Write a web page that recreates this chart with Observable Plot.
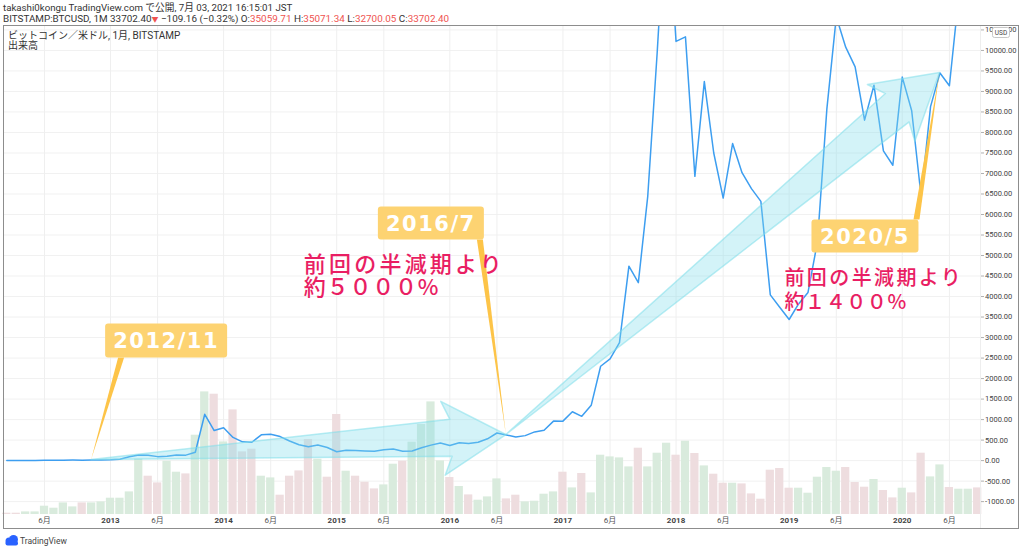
<!DOCTYPE html>
<html><head><meta charset="utf-8">
<script src="https://cdn.jsdelivr.net/npm/d3@7"></script>
<script src="https://cdn.jsdelivr.net/npm/@observablehq/plot@0.6"></script>
<style>
html,body{margin:0;padding:0;background:#fff;}
#chart{position:relative;width:1024px;height:551px;overflow:hidden;}
</style></head><body><div id="chart"></div>
<script>
// Monthly bars, first = Feb 2012, last = Sep 2020 (index 0..103)
const closes = [
  4.9,4.9,5.0,5.2,6.7,9.3,10.2,12.4,11.2,12.6,13.5,
  20.4,33.4,93,139,129,97,106,135,133,204,1129,732,
  803,565,457,448,628,640,586,478,387,338,378,320,
  217,254,244,236,230,263,284,230,236,314,377,430,
  368,437,416,448,531,673,624,575,609,700,742,963,
  962,1190,1080,1348,2300,2480,2875,4740,4340,6450,9950,13850,
  10220,10330,6930,9240,7500,6400,7730,7020,6630,6320,4040,3740,
  3440,3820,4100,5330,8570,10820,10080,9600,8300,9150,7550,7200,
  9350,8530,6440,8630,9450,9140,11350,11650,10780
];
const volumes = [
  1.3,1.3,2.6,2.6,8.3,6.3,11.6,7.6,11.6,11.6,
  12.6,16.3,16.3,22.6,55.3,38.3,31.6,53.3,42.3,40.6,
  79.3,122.6,120.3,72.6,104.6,62.6,65.3,38.3,36.6,19.3,
  38.3,43.6,75,55.3,37.3,100,43.3,38.3,32.3,25.6,
  29.6,50.3,53.3,72.3,90,112.6,53.6,37,28,19.6,
  14.3,17.6,35.6,15.6,19.3,12.6,13.3,20.3,22.6,42.3,
  26.6,41,21.6,59.3,57.6,56.6,47.6,66.3,47.6,61.3,
  71.3,59.3,73.3,61,48.6,40.3,31.3,31.3,30.6,20.6,
  15.3,44.3,46,26.3,26.3,21.3,37.3,47,43.3,47,
  32,27.3,35,24,16.6,26.3,21.6,61.3,37.6,49.6,
  27,25.3,25.3,26.6
];
const volumeDir = [
  "d","d","u","u","u","u","u","u","d","u",
  "u","u","u","u","u","d","d","u","u","d",
  "u","u","d","u","d","d","d","u","u","d",
  "d","d","d","u","d","d","u","d","d","d",
  "u","u","d","u","u","u","u","d","u","d",
  "u","u","u","d","d","u","u","u","u","d",
  "u","d","u","u","u","u","u","d","u","u",
  "u","d","u","d","u","d","d","u","d","d",
  "d","d","d","d","u","u","u","u","u","d",
  "d","d","u","d","d","u","d","d","u","u",
  "d","u","u","d"
];
const priceTicks = [-1000,-500,0,500,1000,1500,2000,2500,3000,3500,4000,4500,5000,5500,6000,6500,7000,7500,8000,8500,9000,9500,10000,10500];
const timeTickIndex = [4,11,16,23,28,35,40,47,52,59,64,71,76,83,88,95,100];
const timeTickLabels = ["6月","2013","6月","2014","6月","2015","6月","2016","6月","2017","6月","2018","6月","2019","6月","2020","6月"];
const annotations = [
  {i: 9, value: 12.6, label: "2012/11"},
  {i: 53, value: 624, label: "2016/7"},
  {i: 99, value: 9450, label: "2020/5"}
];
const notes = [
  ["前回の半減期より", "約５０００%"],
  ["前回の半減期より", "約１４００%"]
];
const headerLine1 = "takashi0kongu TradingView.com で公開, 7月 03, 2021 16:15:01 JST";
const symbolTitle = "ビットコイン／米ドル, 1月, BITSTAMP";
const volumeTitle = "出来高";

const Y_MIN = -1314, Y_MAX = 10608;
const VOL_UNIT = 24.38; // price-units per volume unit (overlay scale)

const data = closes.map((c, i) => ({i, close: c, vol: volumes[i], dir: volumeDir[i]}));
const yearIdx = timeTickIndex.filter((d, k) => timeTickLabels[k] !== "6月");
const monthIdx = timeTickIndex.filter((d, k) => timeTickLabels[k] === "6月");
const lab = d => timeTickLabels[timeTickIndex.indexOf(d)];

const FONT = "Roboto, 'Noto Sans CJK JP', sans-serif";

const chart = Plot.plot({
  width: 1024, height: 551,
  marginLeft: 3, marginRight: 44, marginTop: 25, marginBottom: 37,
  style: {fontFamily: FONT, background: "#fff"},
  x: {type: "linear", domain: [-0.35, 103.3], axis: null},
  y: {domain: [Y_MIN, Y_MAX], axis: null},
  marks: [
    Plot.ruleY(priceTicks, {stroke: "#f1f1f1", strokeWidth: 1}),
    Plot.ruleX(timeTickIndex, {stroke: "#efefef", strokeWidth: 1}),
    Plot.rectY(data, {
      x1: d => d.i - 0.5, x2: d => d.i + 0.5, insetLeft: 0.6, insetRight: 0.6,
      y1: Y_MIN, y2: d => Y_MIN + d.vol * VOL_UNIT,
      fill: d => d.dir === "u" ? "#d9ebdd" : "#eedddf"
    }),
    Plot.line(data, {x: "i", y: "close", stroke: "#3d9ef0", strokeWidth: 1.5, clip: true}),
    Plot.axisY({anchor: "right", label: null, ticks: priceTicks, tickSize: 3, tickPadding: 1.5, fontSize: 7.5,
      stroke: "#b0b0b0", color: "#444",
      tickFormat: d => (d < 0 ? "-" : "") + Math.abs(d).toFixed(2)}),
    Plot.text(monthIdx, {x: d => d, frameAnchor: "bottom", dy: 8, text: lab, fontSize: 8, fill: "#555"}),
    Plot.text(yearIdx, {x: d => d, frameAnchor: "bottom", dy: 8, text: lab, fontSize: 8, fontWeight: "bold", fill: "#444"})
  ]
});
document.getElementById("chart").appendChild(chart);

const X = chart.scale("x"), Y = chart.scale("y");
const svg = d3.select(chart);
const g = svg.append("g").attr("text-anchor", "start");

// frame & separators
g.append("line").attr("x1", 980.5).attr("x2", 980.5).attr("y1", 25).attr("y2", 529).attr("stroke", "#eeeeee");
g.append("rect").attr("x", 3.5).attr("y", 25.5).attr("width", 1015).attr("height", 503)
  .attr("fill", "none").attr("stroke", "#8d8d8d").attr("stroke-width", 1);

// arrows
function arrowPts(ax, ay, bx, by) {
  const dx = bx - ax, dy = by - ay, L = Math.hypot(dx, dy);
  const ux = dx / L, uy = dy / L, nx = -uy, ny = ux;
  const hl = 55, sw = 18.5, hw = 37, sweep = 8;
  const cx = bx - hl * ux, cy = by - hl * uy;
  return [[ax, ay], [cx + sw * nx, cy + sw * ny],
    [cx - sweep * ux + hw * nx, cy - sweep * uy + hw * ny], [bx, by],
    [cx - sweep * ux - hw * nx, cy - sweep * uy - hw * ny], [cx - sw * nx, cy - sw * ny]];
}
const A = annotations.map(a => [X.apply(a.i), Y.apply(a.value)]);
[[A[0], A[1]], [A[1], A[2]]].forEach(([p, q]) => {
  g.append("polygon").attr("points", arrowPts(p[0], p[1], q[0], q[1]).map(d => d.join(",")).join(" "))
    .attr("fill", "#80deea").attr("fill-opacity", 0.35)
    .attr("stroke", "#80deea").attr("stroke-opacity", 0.55).attr("stroke-width", 1.5).attr("stroke-linejoin", "round");
});

// callouts
const boxOff = [
  {dx: 14, dy: -136, w: 122, h: 34, base: [[13, 34], [19, 34]]},
  {dx: -128, dy: -228, w: 106, h: 33, base: [[99, 33], [105, 33]]},
  {dx: -128, dy: 147, w: 107, h: 33, base: [[102, 0], [108, 0]]}
];
annotations.forEach((a, k) => {
  const [ax, ay] = A[k], o = boxOff[k];
  const bx = ax + o.dx, by = ay + o.dy;
  g.append("polygon").attr("points", [[bx + o.base[0][0], by + o.base[0][1]], [bx + o.base[1][0], by + o.base[1][1]], [ax, ay]].map(d => d.join(",")).join(" "))
    .attr("fill", "#fdc448");
  g.append("rect").attr("x", bx).attr("y", by).attr("width", o.w).attr("height", o.h).attr("rx", 3)
    .attr("fill", "#fdd372");
  g.append("text").attr("x", bx + o.w / 2).attr("y", by + o.h / 2).attr("dy", "0.36em")
    .attr("text-anchor", "middle").attr("fill", "#fff").attr("font-family", "'DejaVu Sans', sans-serif")
    .attr("font-weight", "bold").attr("font-size", 21).attr("letter-spacing", 1.5).text(a.label);
});

// notes
const noteOff = [
  {k: 1, dx: -202, dy: -163, size: 22, lh: 23, ls: [3.2, 0.8]},
  {k: 2, dx: -155, dy: 213, size: 20, lh: 23.5, ls: [2.4, 0.6]}
];
notes.forEach((lines, n) => {
  const o = noteOff[n], [ax, ay] = A[o.k];
  const t = g.append("text").attr("fill", "#e91e63").attr("font-family", "'Noto Sans CJK JP', sans-serif")
    .attr("text-anchor", "start").attr("font-size", o.size).attr("font-weight", 500);
  lines.forEach((s, j) => t.append("tspan").attr("x", ax + o.dx).attr("y", ay + o.dy + j * o.lh)
    .attr("letter-spacing", o.ls[j]).text(s));
});

// header
const hdr = g.append("g").attr("font-family", FONT).attr("fill", "#333").attr("text-anchor", "start");
hdr.append("text").attr("x", 3).attr("y", 11).attr("font-size", 9.7).text(headerLine1);
const l2 = hdr.append("text").attr("x", 3).attr("y", 21.5).attr("font-size", 9.9);
[["BITSTAMP:BTCUSD, 1M 33702.40", "#333"], ["▼", "#ef5350"], [" −109.16 (−0.32%) O:", "#333"], ["35059.71", "#ef5350"],
 [" H:", "#333"], ["35071.34", "#ef5350"], [" L:", "#333"], ["32700.05", "#ef5350"], [" C:", "#333"], ["33702.40", "#ef5350"]]
  .forEach(([s, c]) => l2.append("tspan").attr("fill", c).attr("font-size", s === "▼" ? 7 : null).text(s));
hdr.append("text").attr("x", 8).attr("y", 38.5).attr("font-size", 10).text(symbolTitle);
hdr.append("text").attr("x", 8).attr("y", 49).attr("font-size", 10).text(volumeTitle);

// USD badge
g.append("rect").attr("x", 992.5).attr("y", 27.5).attr("width", 17).attr("height", 10).attr("rx", 2)
  .attr("fill", "#fff").attr("stroke", "#c8c8c8");
g.append("text").attr("x", 1001).attr("y", 35).attr("text-anchor", "middle").attr("font-size", 6.5)
  .attr("font-family", FONT).attr("fill", "#444").text("USD");

// TradingView logo
const lg = g.append("g").attr("fill", "#2962ff");
lg.append("circle").attr("cx", 9).attr("cy", 541).attr("r", 3.5);
lg.append("circle").attr("cx", 13.5).attr("cy", 539.5).attr("r", 4.5);
lg.append("rect").attr("x", 5.5).attr("y", 541).attr("width", 12.5).attr("height", 4.5).attr("rx", 2);
g.append("text").attr("x", 20).attr("y", 544).attr("font-size", 8.5).attr("font-family", FONT).attr("fill", "#444").text("TradingView");
</script></body></html>
